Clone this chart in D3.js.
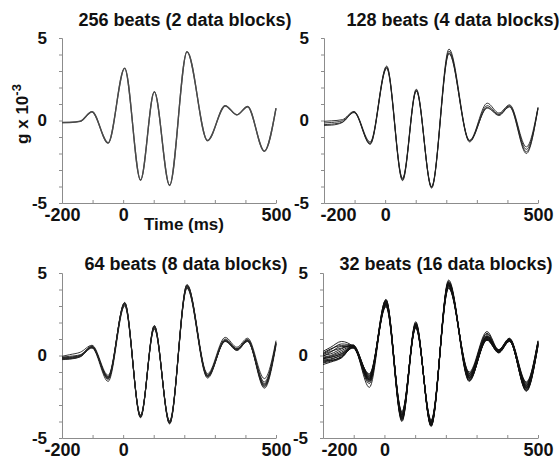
<!DOCTYPE html>
<html>
<head>
<meta charset="utf-8">
<script src="https://cdn.jsdelivr.net/npm/d3@7/dist/d3.min.js"></script>
<style>
  html, body { margin: 0; padding: 0; background: #fff; }
  svg { display: block; font-family: "Liberation Sans", Arial, sans-serif; }
</style>
</head>
<body>
<svg id="chart" width="560" height="462"></svg>
<script>
// Sample times (ms) at which each averaged trace is tabulated
const times = [-200, -175, -140, -102, -49, 5, 57, 102, 152, 209, 276, 334, 372, 407, 462, 500];

// Panel titles
const titles = [
  "256 beats (2 data blocks)",
  "128 beats (4 data blocks)",
  "64 beats (8 data blocks)",
  "32 beats (16 data blocks)"
];

// Axis ticks
const xTicks = [-200, -100, 0, 100, 200, 300, 400, 500];
const xTickLabels = [-200, 0, 500];
const yTicks = [-5, -4, -3, -2, -1, 0, 1, 2, 3, 4, 5];
const yTickLabels = [-5, 0, 5];

// Acceleration traces (g x 10^-3), one row per data block
const blocks2 = [
  [-0.12, -0.11, -0.04, 0.53, -1.35, 3.18, -3.60, 1.75, -3.92, 4.18, -1.21, 0.90, 0.35, 0.85, -1.85, 0.75],
  [-0.13, -0.12, -0.05, 0.52, -1.37, 3.16, -3.62, 1.73, -3.94, 4.16, -1.23, 0.88, 0.34, 0.83, -1.87, 0.73]
];

const blocks4 = [
  [-0.05, -0.02, 0.05, 0.55, -1.30, 3.25, -3.55, 1.85, -4.00, 4.33, -1.20, 1.05, 0.45, 0.95, -1.60, 0.80],
  [-0.15, -0.12, -0.02, 0.50, -1.40, 3.20, -3.60, 1.80, -4.05, 4.20, -1.25, 0.90, 0.38, 0.90, -1.75, 0.75],
  [-0.25, -0.22, -0.10, 0.48, -1.45, 3.15, -3.65, 1.78, -4.10, 4.10, -1.30, 0.80, 0.30, 0.85, -1.90, 0.70],
  [-0.30, -0.28, -0.12, 0.52, -1.38, 3.30, -3.50, 1.90, -4.02, 4.05, -1.22, 0.75, 0.35, 0.82, -2.00, 0.78]
];

const blocks8 = [
  [-0.05, 0.05, 0.20, 0.62, -1.20, 3.10, -3.65, 1.65, -4.00, 4.30, -1.10, 1.10, 0.50, 1.05, -1.40, 0.90],
  [-0.10, -0.05, 0.05, 0.55, -1.30, 3.20, -3.70, 1.80, -4.05, 4.25, -1.20, 1.00, 0.42, 0.95, -1.60, 0.80],
  [-0.15, -0.12, 0.00, 0.50, -1.35, 3.15, -3.72, 1.75, -4.10, 4.20, -1.25, 0.90, 0.38, 0.90, -1.70, 0.75],
  [-0.20, -0.18, -0.05, 0.48, -1.40, 3.05, -3.78, 1.70, -4.15, 4.10, -1.30, 0.85, 0.33, 0.85, -1.80, 0.70],
  [-0.25, -0.22, -0.08, 0.45, -1.57, 3.00, -3.60, 1.60, -3.95, 4.07, -1.37, 0.95, 0.40, 0.88, -1.98, 0.60],
  [-0.18, -0.15, -0.02, 0.58, -1.45, 3.22, -3.68, 1.82, -4.12, 4.28, -1.28, 0.92, 0.36, 0.92, -1.85, 0.72],
  [-0.12, -0.10, 0.02, 0.52, -1.28, 3.18, -3.75, 1.78, -4.05, 4.18, -1.18, 0.88, 0.35, 0.98, -1.90, 0.80],
  [-0.22, -0.20, -0.06, 0.50, -1.38, 3.12, -3.70, 1.72, -4.08, 4.15, -1.22, 0.86, 0.30, 0.86, -1.75, 0.68]
];

const blocks16 = [
  [0.25, 0.50, 0.85, 0.55, -1.10, 3.00, -3.40, 1.65, -3.90, 4.10, -1.00, 1.45, 0.35, 1.05, -1.60, 0.90],
  [0.10, 0.35, 0.70, 0.60, -1.20, 3.10, -3.50, 1.75, -4.00, 4.20, -1.10, 1.30, 0.30, 1.00, -1.70, 0.85],
  [-0.05, 0.20, 0.55, 0.50, -1.30, 3.20, -3.60, 1.85, -4.10, 4.30, -1.20, 1.10, 0.25, 0.95, -1.80, 0.80],
  [-0.10, 0.00, 0.30, 0.58, -1.93, 3.30, -3.70, 1.95, -4.20, 4.40, -1.30, 1.00, 0.20, 0.90, -1.90, 0.75],
  [-0.20, -0.10, 0.10, 0.50, -1.40, 3.40, -3.80, 2.05, -4.30, 4.57, -1.40, 0.95, 0.15, 0.85, -2.00, 0.70],
  [-0.30, -0.20, 0.00, 0.45, -1.50, 3.25, -3.90, 1.90, -4.15, 4.45, -1.50, 1.05, 0.30, 0.90, -2.10, 0.65],
  [-0.40, -0.30, -0.10, 0.48, -1.55, 3.15, -4.00, 1.80, -4.05, 4.35, -1.57, 1.15, 0.28, 0.95, -2.17, 0.60],
  [-0.55, -0.40, -0.15, 0.52, -1.45, 3.05, -3.85, 1.70, -4.10, 4.25, -1.35, 0.98, 0.22, 0.88, -1.95, 0.55],
  [-0.25, -0.30, -0.05, 0.62, -1.35, 3.35, -3.75, 1.88, -4.25, 4.15, -1.25, 1.12, 0.35, 1.02, -1.85, 0.78],
  [0.00, 0.10, 0.40, 0.65, -1.25, 2.95, -3.65, 1.78, -4.00, 4.07, -1.15, 1.20, 0.32, 0.98, -1.75, 0.82],
  [-0.15, -0.05, 0.20, 0.55, -1.60, 3.22, -3.55, 1.82, -4.18, 4.38, -1.45, 0.92, 0.18, 0.86, -2.05, 0.68],
  [0.15, 0.40, 0.60, 0.58, -1.18, 3.12, -3.45, 1.72, -3.95, 4.22, -1.08, 1.35, 0.30, 1.00, -1.65, 0.88],
  [-0.35, -0.25, 0.05, 0.47, -1.70, 3.28, -3.95, 1.98, -4.28, 4.50, -1.52, 1.02, 0.22, 0.92, -2.12, 0.62],
  [-0.45, -0.35, -0.12, 0.50, -1.42, 3.18, -3.82, 1.76, -4.12, 4.30, -1.32, 1.08, 0.26, 0.94, -1.98, 0.72],
  [0.05, 0.25, 0.45, 0.60, -1.32, 3.08, -3.62, 1.84, -4.08, 4.28, -1.22, 1.18, 0.34, 0.96, -1.82, 0.76],
  [-0.18, -0.12, 0.12, 0.54, -1.48, 3.38, -3.72, 1.92, -4.22, 4.42, -1.38, 0.96, 0.20, 0.90, -1.92, 0.70]
];

const panelData = [blocks2, blocks4, blocks8, blocks16];

// Plot-area placement of each panel (left, right, top, bottom) and label offsets
const layout = [
  { x0: 62,  x1: 276, y0: 38,  y1: 203, titleX: 185, titleY: 26,  stroke: "#4a4a4a", firstDx: 0 },
  { x0: 324, x1: 538, y0: 38,  y1: 203, titleX: 453, titleY: 26,  stroke: "#222",    firstDx: 14 },
  { x0: 62,  x1: 276, y0: 273, y1: 438, titleX: 186, titleY: 270, stroke: "#222",    firstDx: 0 },
  { x0: 323, x1: 538, y0: 273, y1: 438, titleX: 446, titleY: 270, stroke: "#111",    firstDx: 16 }
];

const svg = d3.select("#chart");
const axisColor = "#8c8c8c";

panelData.forEach((traces, i) => {
  const L = layout[i];
  const x = d3.scaleLinear().domain([-200, 500]).range([L.x0, L.x1]);
  const y = d3.scaleLinear().domain([-5, 5]).range([L.y1, L.y0]);
  const g = svg.append("g");

  // y axis: minor ticks each unit, labels at -5, 0, 5
  const yAxis = g.append("g")
    .attr("transform", `translate(${L.x0},0)`)
    .call(d3.axisLeft(y).tickValues(yTicks).tickSize(3).tickPadding(12)
      .tickFormat(d => yTickLabels.includes(d) ? String(d) : ""));
  yAxis.select(".domain").attr("stroke", axisColor);
  yAxis.selectAll(".tick line").attr("stroke", axisColor);
  yAxis.selectAll(".tick text")
    .attr("fill", "#111")
    .style("font-size", "17px")
    .style("font-weight", "bold");

  // x axis: ticks pointing up every 100 ms, labels at -200, 0, 500
  const xAxis = g.append("g")
    .attr("transform", `translate(0,${L.y1})`)
    .call(d3.axisBottom(x).tickValues(xTicks).tickSizeInner(-3).tickSizeOuter(0).tickPadding(5)
      .tickFormat(d => xTickLabels.includes(d) ? String(d) : ""));
  xAxis.select(".domain").attr("stroke", axisColor);
  xAxis.selectAll(".tick line").attr("stroke", axisColor);
  xAxis.selectAll(".tick text")
    .attr("fill", "#111")
    .attr("dx", d => d === -200 ? L.firstDx : 0)
    .style("font-size", "18px")
    .style("font-weight", "bold");

  // Traces
  const line = d3.line()
    .x((v, k) => x(times[k]))
    .y(v => y(v))
    .curve(d3.curveMonotoneX);

  g.append("g")
    .selectAll("path")
    .data(traces)
    .join("path")
    .attr("d", line)
    .attr("fill", "none")
    .attr("stroke", L.stroke)
    .attr("stroke-width", i === 0 ? 1.3 : 0.9);

  // Title
  g.append("text")
    .attr("x", L.titleX)
    .attr("y", L.titleY)
    .attr("text-anchor", "middle")
    .attr("fill", "#111")
    .style("font-size", "18px")
    .style("font-weight", "bold")
    .text(titles[i]);
});

// Axis titles on the first panel
svg.append("text")
  .attr("x", 184)
  .attr("y", 230)
  .attr("text-anchor", "middle")
  .attr("fill", "#111")
  .style("font-size", "17px")
  .style("font-weight", "bold")
  .text("Time (ms)");

const yLab = svg.append("text")
  .attr("transform", "translate(28,114) rotate(-90)")
  .attr("text-anchor", "middle")
  .attr("fill", "#111")
  .style("font-size", "17px")
  .style("font-weight", "bold");
yLab.append("tspan").text("g x 10");
yLab.append("tspan").attr("dy", -7).style("font-size", "13px").text("-3");
</script>
</body>
</html>
